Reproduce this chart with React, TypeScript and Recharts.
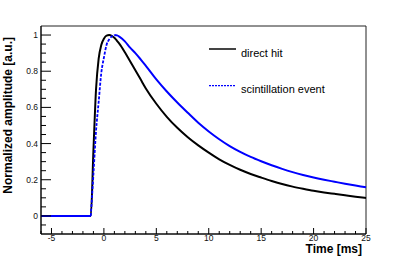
import { LineChart, Line, XAxis, YAxis, ReferenceArea, Label } from "recharts";

// time axis [ms]
const times = [
  -6, -1.25, -1, -0.75, -0.5, -0.25, 0, 0.25, 0.5, 0.75, 1, 1.25, 1.5, 2, 2.5, 3, 3.5, 4,
  5, 6, 7, 8, 9, 10, 11, 12, 13, 14, 15, 16, 17, 18, 19, 20, 21, 22, 23, 24, 25,
];
const directHit = [
  0, 0, 0.36, 0.7, 0.87, 0.945, 0.98, 0.997, 1.0, 0.996, 0.985, 0.968, 0.95, 0.905, 0.855, 0.805,
  0.755, 0.705, 0.62, 0.548, 0.487, 0.435, 0.39, 0.35, 0.313, 0.282, 0.255, 0.232, 0.212, 0.193,
  0.176, 0.162, 0.15, 0.139, 0.13, 0.122, 0.114, 0.106, 0.099,
];
const scintillation = [
  0, 0, 0.23, 0.47, 0.63, 0.79, 0.875, 0.945, 0.975, 0.993, 1.0, 0.998, 0.99, 0.965, 0.93, 0.9,
  0.866, 0.83, 0.755, 0.688, 0.627, 0.57, 0.515, 0.467, 0.424, 0.386, 0.354, 0.326, 0.302, 0.28,
  0.26, 0.242, 0.226, 0.212, 0.2, 0.189, 0.178, 0.168, 0.158,
];

const xTicks = [
  -6, -5, -4, -3, -2, -1, 0, 1, 2, 3, 4, 5, 6, 7, 8, 9, 10, 11, 12, 13, 14, 15, 16, 17, 18, 19,
  20, 21, 22, 23, 24, 25,
];
const yTicks = [
  -0.05, 0, 0.05, 0.1, 0.15, 0.2, 0.25, 0.3, 0.35, 0.4, 0.45, 0.5, 0.55, 0.6, 0.65, 0.7, 0.75,
  0.8, 0.85, 0.9, 0.95, 1,
];

const legendItems = [
  { name: "direct hit", color: "#444", dashed: false },
  { name: "scintillation event", color: "#0000ff", dashed: true },
];

// the blue rise is drawn dashed, baseline and tail solid (as in the original plot)
const RISE_START = -1.25;
const RISE_END = 1;

const data = times.map((t, i) => ({
  t,
  direct: directHit[i],
  scintSolid: t <= RISE_START || t >= RISE_END ? scintillation[i] : null,
  scintRise: t >= RISE_START && t <= RISE_END ? scintillation[i] : null,
}));

const FONT = "'Liberation Sans', Arial, sans-serif";

function XTick(props: any) {
  const { x, y, payload } = props;
  const major = payload.value % 5 === 0;
  return (
    <g>
      <line x1={x} y1={y} x2={x} y2={y - (major ? 6 : 3)} stroke="#000" strokeWidth={1} />
      {major && (
        <text x={x} y={y + 6.5} textAnchor="middle" fontSize={8.5} fontFamily={FONT} fill="#111">
          {payload.value}
        </text>
      )}
    </g>
  );
}

function YTick(props: any) {
  const { x, y, payload } = props;
  const v = payload.value;
  const major = Math.abs(v * 5 - Math.round(v * 5)) < 1e-6;
  return (
    <g>
      <line x1={x} y1={y} x2={x + (major ? 10 : 5)} y2={y} stroke="#000" strokeWidth={1} />
      {major && (
        <text x={x - 3} y={y + 3} textAnchor="end" fontSize={8.5} fontFamily={FONT} fill="#111">
          {Number(v.toFixed(1))}
        </text>
      )}
    </g>
  );
}

function LegendBox() {
  return (
    <svg width={170} height={62} style={{ position: "absolute", left: 209, top: 40 }}>
      {legendItems.map((item, i) => {
        const ly = 9 + i * 36.7;
        return (
          <g key={item.name}>
            <line
              x1={0}
              x2={27}
              y1={ly}
              y2={ly}
              stroke={item.color}
              strokeWidth={item.dashed ? 1.2 : 2}
              strokeDasharray={item.dashed ? "2 1" : undefined}
            />
            <text x={32} y={ly + 7.7} fontSize={11} fontFamily={FONT} fill="#000">
              {item.name}
            </text>
          </g>
        );
      })}
    </svg>
  );
}

export default function App() {
  return (
    <div style={{ position: "absolute", left: 0, top: 0, width: 407, height: 261, background: "#fff" }}>
      <LineChart width={407} height={261} data={data} margin={{ top: 26, right: 41, bottom: 0, left: 0 }}>
        <XAxis
          dataKey="t"
          type="number"
          domain={[-6, 25]}
          ticks={xTicks}
          interval={0}
          tickSize={0}
          tickMargin={0}
          tickLine={false}
          tick={<XTick />}
          height={27}
          axisLine={{ stroke: "#000" }}
        >
          <Label
            content={(p: any) => {
              const vb = p.viewBox;
              return (
                <text
                  x={vb.x + vb.width - 4}
                  y={vb.y + 19.4}
                  textAnchor="end"
                  fontSize={12}
                  fontWeight="bold"
                  fontFamily={FONT}
                  fill="#000"
                >
                  Time [ms]
                </text>
              );
            }}
          />
        </XAxis>
        <YAxis
          type="number"
          domain={[-0.1, 1.05]}
          allowDataOverflow
          ticks={yTicks}
          interval={0}
          tickSize={0}
          tickMargin={0}
          tickLine={false}
          tick={<YTick />}
          width={41}
          axisLine={{ stroke: "#000" }}
        >
          <Label
            content={() => (
              <text
                x={12}
                y={37}
                transform="rotate(-90, 12, 37)"
                textAnchor="end"
                fontSize={12}
                fontWeight="bold"
                fontFamily={FONT}
                fill="#000"
              >
                Normalized amplitude [a.u.]
              </text>
            )}
          />
        </YAxis>
        <ReferenceArea x1={-6} x2={25} y1={-0.1} y2={1.05} fill="none" stroke="#222" strokeWidth={1} />
        <Line
          type="monotone"
          dataKey="direct"
          name="direct hit"
          stroke="#000"
          strokeWidth={2}
          dot={false}
          isAnimationActive={false}
        />
        <Line
          type="monotone"
          dataKey="scintSolid"
          name="scintillation tail"
          stroke="#0000ff"
          strokeWidth={2}
          dot={false}
          isAnimationActive={false}
        />
        <Line
          type="monotone"
          dataKey="scintRise"
          name="scintillation event"
          stroke="#0000ff"
          strokeWidth={1.8}
          strokeDasharray="3 1.5"
          dot={false}
          isAnimationActive={false}
        />
      </LineChart>
      <LegendBox />
    </div>
  );
}
